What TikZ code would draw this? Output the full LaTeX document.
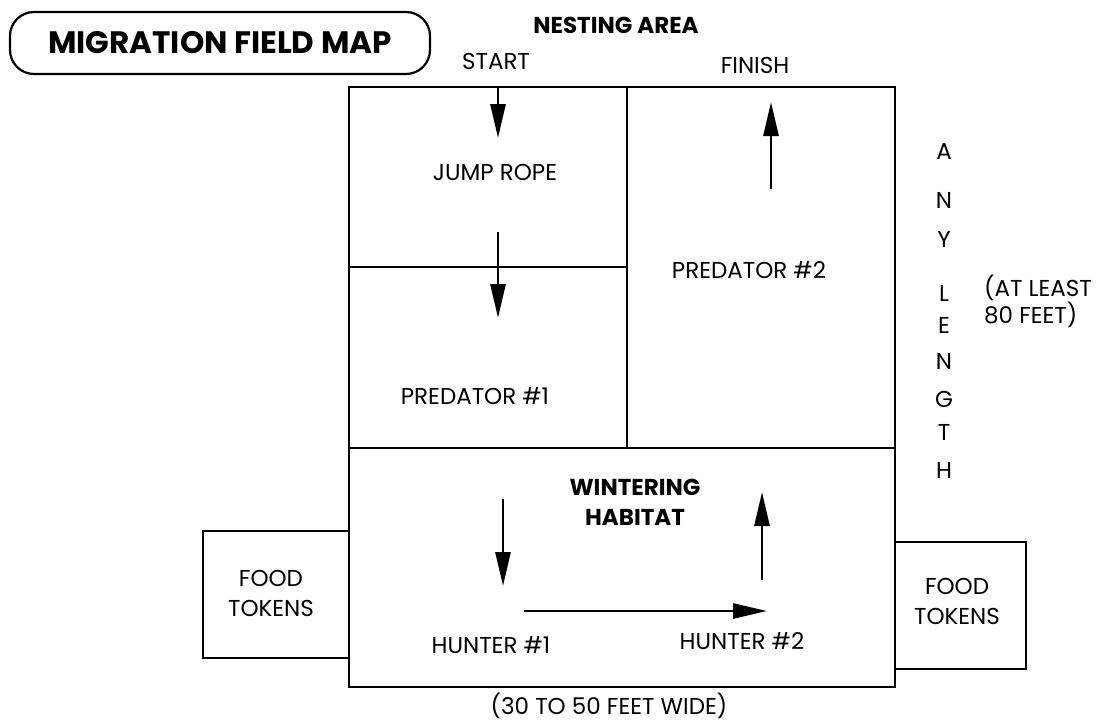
\documentclass[tikz,border=0pt]{standalone}
\usepackage{fontspec}
\setmainfont{Poppins}
\usetikzlibrary{arrows.meta}

\begin{document}
\begin{tikzpicture}[
  x=1pt, y=-1pt,
  field/.style={line width=2.8pt},
  txt/.style={font=\fontsize{23}{30}\selectfont, align=center, inner sep=0pt},
  heading/.style={txt, font=\fontsize{23}{30}\selectfont\bfseries},
  arrow/.style={line width=2.8pt, -{Triangle[length=34pt, width=15pt]}},
]
\useasboundingbox (0,0) rectangle (1096,721);

% Field outline
\draw[field] (349,87) rectangle (895,687);
\draw[field] (627,87) -- (627,448);
\draw[field] (349,448) -- (895,448);
\draw[field] (349,267) -- (627,267);
% Food token boxes
\draw[field] (349,531) -| (203,658) -- (349,658);
\draw[field] (895,542) -| (1026,669) -- (895,669);

% Title
\node[draw, rounded corners=24pt, line width=2.2pt, minimum width=420pt,
  minimum height=62pt, font=\fontsize{31}{36}\selectfont\bfseries] (title) at (220,43) {MIGRATION FIELD MAP};

% Nodes
\node[heading] (nest) at (616,25) {NESTING AREA};
\node[txt] (start) at (496,61) {START};
\node[txt] (finish) at (755,65) {FINISH};
\node[txt] (rope) at (495,172) {JUMP ROPE};
\node[txt] (pred1) at (475,396) {PREDATOR \#1};
\node[txt] (pred2) at (749,270) {PREDATOR \#2};
\node[heading] (winter) at (635,502) {WINTERING\\HABITAT};
\node[txt] (hunt1) at (491,645) {HUNTER \#1};
\node[txt] (hunt2) at (742,641) {HUNTER \#2};
\node[txt] (foodL) at (271,593) {FOOD\\TOKENS};
\node[txt] (foodR) at (957,601) {FOOD\\TOKENS};
\node[txt] (width) at (609,706) {(30 TO 50 FEET WIDE)};
\foreach \ch/\yy [count=\i] in {A/152, N/200, Y/239, L/293, E/325, N/361, G/399, T/432, H/470}
  \node[txt] (len\i) at (944,\yy) {\ch};
\node[txt, align=left, anchor=west, font=\fontsize{23}{27}\selectfont] (least) at (984,301) {(AT LEAST\\80 FEET)};

% Arrow ends
\coordinate (a1) at (498,87);   \coordinate (a2) at (498,138);
\coordinate (b1) at (498,232);  \coordinate (b2) at (498,318);
\coordinate (c1) at (771,189);  \coordinate (c2) at (771,102);
\coordinate (d1) at (503,499);  \coordinate (d2) at (503,586);
\coordinate (e1) at (524,611);  \coordinate (e2) at (767,611);
\coordinate (f1) at (762,580);  \coordinate (f2) at (762,492);

% Arrows
\draw[arrow] (a1) -- (a2);
\draw[arrow] (b1) -- (b2);
\draw[arrow] (c1) -- (c2);
\draw[arrow] (d1) -- (d2);
\draw[arrow] (e1) -- (e2);
\draw[arrow] (f1) -- (f2);
\end{tikzpicture}
\end{document}
